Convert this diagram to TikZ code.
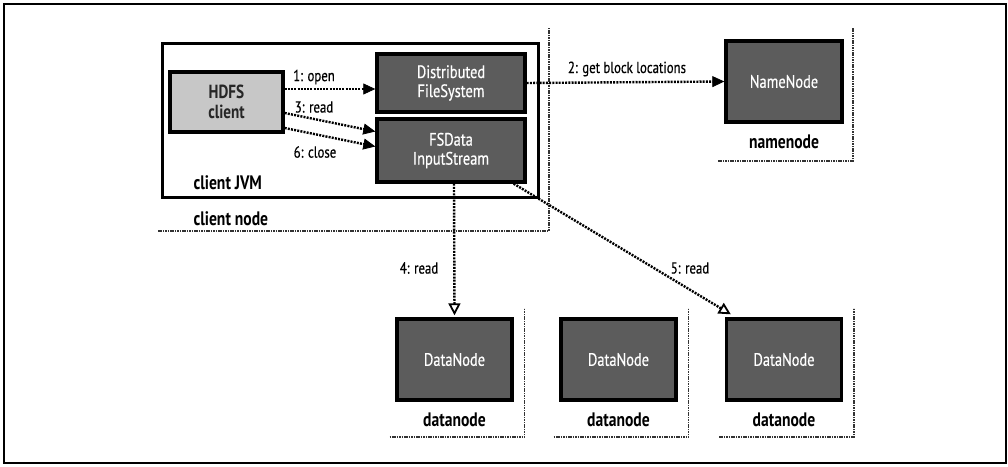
\documentclass[tikz,border=0pt]{standalone}
\usepackage{fontspec}
\setmainfont{PT Sans}[FakeStretch=0.80]
\newfontfamily\msgfont{PT Sans}[FakeStretch=0.80,FakeBold=0.5]
\usetikzlibrary{arrows.meta,calc}
\begin{document}
\begin{tikzpicture}[x=1pt,y=-1pt,
  darkbox/.style={draw=black,line width=3.4pt,fill=black!64,text=white,
    font=\msgfont\fontsize{18}{19}\selectfont,align=center,inner sep=0pt},
  lightbox/.style={draw=black,line width=3.4pt,fill=black!22,text=black!85,
    font=\bfseries\fontsize{19}{20}\selectfont,align=center,inner sep=0pt},
  caption/.style={font=\bfseries\fontsize{19.5}{19}\selectfont,text=black},
  msg/.style={font=\msgfont\fontsize{16}{16}\selectfont,text=black},
  frame/.style={line width=1.4pt,dash pattern=on 1.6pt off 0.8pt,black!80},
  call/.style={line width=2.4pt,dash pattern=on 2pt off 1.2pt,
    -{Triangle[length=12pt,width=11pt,line width=0.8pt]}},
  ocall/.style={line width=2.4pt,dash pattern=on 2pt off 1.2pt,
    -{Triangle[open,length=12pt,width=12pt,line width=1.8pt]}}
]
\useasboundingbox (0,0) rectangle (1008,466);
% outer border
\draw[line width=2pt] (4,4) rectangle (1006,463);

% client node and JVM
\draw[frame] (158,231) -- (549,231) -- (549,28);
\draw[line width=3pt] (162,43) rectangle (538,197);
\node[caption,anchor=west] (jvm) at (190,183) {client JVM};
\node[caption,anchor=west] (cnode) at (190,219) {client node};

\node[lightbox,minimum width=113pt,minimum height=60pt] (hdfs) at (226.5,102) {HDFS\\client};
\node[darkbox,minimum width=148pt,minimum height=58pt] (dfs) at (451,83) {Distributed\\FileSystem};
\node[darkbox,minimum width=148pt,minimum height=63pt] (fsd) at (451,150.5) {FSData\\InputStream};

% namenode
\draw[frame] (718,161) -- (853,161) -- (853,28);
\node[darkbox,minimum width=116pt,minimum height=81pt] (nn) at (784,81.5) {NameNode};
\node[caption] (nnl) at (784,142) {namenode};

% datanodes
\foreach \i/\cx in {1/454.5,2/618.5,3/784}{
  \draw[frame] ({\cx-65},437) -- ({\cx+70},437) -- ({\cx+70},308);
  \node[darkbox,minimum width=115pt,minimum height=81pt] (dn\i) at (\cx,359.5) {DataNode};
  \node[caption] (dnl\i) at (\cx,420) {datanode};
}

% calls
\draw[call] ($(hdfs.east)+(0,-13)$) -- ($(dfs.west)+(0,6)$);
\node[msg] (l1) at (314,77) {1: open};
\draw[call] ($(hdfs.east)+(0,11)$) -- ($(fsd.west)+(0,-19)$);
\node[msg] (l3) at (314,107) {3: read};
\draw[call] ($(hdfs.east)+(0,26)$) -- ($(fsd.west)+(0,-4)$);
\node[msg] (l6) at (315,152) {6: close};
\draw[call] (dfs.east) -- (nn.west);
\node[msg] (l2) at (627,69) {2: get block locations};
\draw[ocall] ($(fsd.south)+(3,0)$) -- ($(dn1.north)+(0,-2)$);
\node[msg] (l4) at (419,268) {4: read};
\draw[ocall] ($(fsd.south east)+(-13,0)$) -- ($(dn3.north west)+(6,-3)$);
\node[msg] (l5) at (690,268) {5: read};
\end{tikzpicture}
\end{document}
